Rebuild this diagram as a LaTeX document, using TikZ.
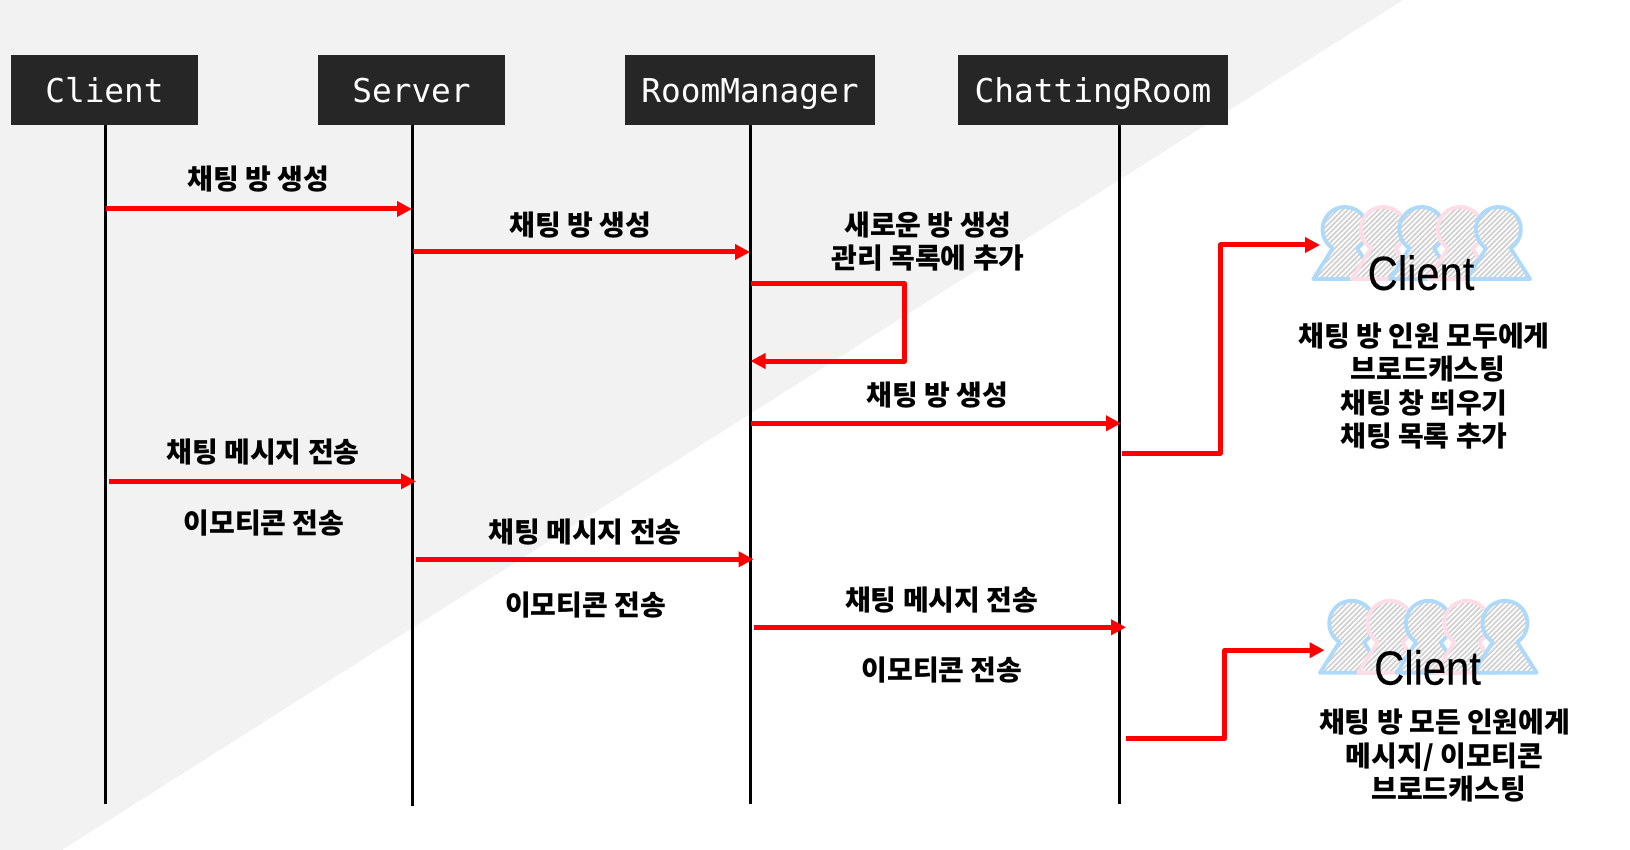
\documentclass[tikz,border=0pt]{standalone}
\usepackage{fontspec}
\setmonofont{DejaVu Sans Mono}
\newfontfamily\krfont{Noto Sans CJK KR}
\newfontfamily\crowdfont[FakeStretch=0.87,FakeBold=0.25]{Liberation Sans}
\usetikzlibrary{arrows.meta,patterns.meta}
\definecolor{headbg}{HTML}{262626}
\definecolor{wedge}{HTML}{F2F2F2}
\definecolor{crowdblue}{HTML}{ADDAFA}
\definecolor{crowdpink}{HTML}{FFDDE6}
\definecolor{crowdhatch}{HTML}{CFCFCF}
\tikzset{
    header/.style={fill=headbg,text=white,inner sep=0pt,minimum height=70.5pt,text height=30pt,text depth=4pt,font=\ttfamily\fontsize{32.8}{33}\selectfont},
    lifeline/.style={black,line width=3pt},
    msg/.style={red,line width=5pt,line join=round,-{Triangle[length=15pt,width=15pt]}},
    msglabel/.style={inner sep=0pt,align=center,font=\krfont\bfseries\fontsize{28}{33.5}\selectfont},
    crowdlabel/.style={inner sep=0pt,font=\crowdfont\fontsize{48}{48}\selectfont},
    person/.pic={
        \draw[#1,line width=3.8pt,line join=round,preaction={fill=white},pattern={Lines[angle=45,distance=3.6pt,line width=1.7pt]},pattern color=crowdhatch]
            (-31.7,49.5) -- (-12.3,18.8) arc[start angle=123,end angle=417,radius=22.5] -- (31.7,49.5) -- cycle;
    },
}
\begin{document}
\begin{tikzpicture}[x=1pt,y=-1pt]

    \useasboundingbox (0,0) rectangle (1630,850);
    \fill[wedge] (0,0) -- (1403,0) -- (62,850) -- (0,850) -- cycle;

    % headers
    \node[header,minimum width=187pt] (client) at (104.5,90) {Client};
    \node[header,minimum width=187pt] (server) at (411.5,90) {Server};
    \node[header,minimum width=250pt] (roommanager) at (750,90) {RoomManager};
    \node[header,minimum width=269.5pt] (chattingroom) at (1093,90) {ChattingRoom};

    % lifelines
    \coordinate (clientend) at (105.2,804);
    \coordinate (serverend) at (412.1,806);
    \coordinate (managerend) at (750.7,804);
    \coordinate (roomend) at (1119.7,804);
    \draw[lifeline] (client.south -| clientend) -- (clientend);
    \draw[lifeline] (server.south -| serverend) -- (serverend);
    \draw[lifeline] (roommanager.south -| managerend) -- (managerend);
    \draw[lifeline] (chattingroom.south -| roomend) -- (roomend);

    % create room
    \node[msglabel] (create1) at (258.5,179) {채팅 방 생성};
    \node[msglabel] (create2) at (580.7,225.5) {채팅 방 생성};
    \node[msglabel] (addlist) at (928,241.5) {새로운 방 생성\\관리 목록에 추가};
    \node[msglabel] (create3) at (937.3,395) {채팅 방 생성};

    \coordinate (a1) at (106,209);
    \coordinate (b1) at (412,209);
    \coordinate (b2) at (412.7,252);
    \coordinate (c2) at (750,252);
    \coordinate (c3) at (750.5,283.5);
    \coordinate (c4) at (904.5,283.5);
    \coordinate (c5) at (904.5,361);
    \coordinate (c6) at (750.5,361);
    \coordinate (c7) at (750.5,423.3);
    \coordinate (d7) at (1121,423.3);
    \draw[msg] (a1) to (b1); % Client -> Server
    \draw[msg] (b2) to (c2); % Server -> RoomManager
    \draw[msg] (c3) -- (c4) -- (c5) -- (c6); % RoomManager -> itself
    \draw[msg] (c7) to (d7); % RoomManager -> ChattingRoom

    % message and emoticon
    \node[msglabel] (chat1) at (263,452.5) {채팅 메시지 전송};
    \node[msglabel] (emoji1) at (264,523) {이모티콘 전송};
    \node[msglabel] (chat2) at (585,532.5) {채팅 메시지 전송};
    \node[msglabel] (emoji2) at (585.5,605.5) {이모티콘 전송};
    \node[msglabel] (chat3) at (941.7,600.5) {채팅 메시지 전송};
    \node[msglabel] (emoji3) at (942,670.5) {이모티콘 전송};

    \coordinate (a8) at (109,481.3);
    \coordinate (b8) at (416,481.3);
    \coordinate (b9) at (416,559.3);
    \coordinate (c9) at (753.6,559.3);
    \coordinate (c10) at (753.6,627.3);
    \coordinate (d10) at (1126,627.3);
    \draw[msg] (a8) to (b8); % Client -> Server
    \draw[msg] (b9) to (c9); % Server -> RoomManager
    \draw[msg] (c10) to (d10); % RoomManager -> ChattingRoom

    % first crowd
    \pic at (1345,229.5) {person=crowdblue};
    \pic at (1383.4,229.5) {person=crowdpink};
    \pic at (1421.8,229.5) {person=crowdblue};
    \pic at (1460.2,229.5) {person=crowdpink};
    \pic at (1498.4,229.5) {person=crowdblue};
    \node[crowdlabel] (crowd1) at (1421,272.8) {Client};
    \node[msglabel] (notice1) at (1424,386.2) {채팅 방 인원 모두에게\\\hspace*{8pt}브로드캐스팅\\채팅 창 띄우기\\채팅 목록 추가};

    \coordinate (d11) at (1121.6,453);
    \coordinate (e11) at (1220.4,453);
    \coordinate (e12) at (1220.4,245);
    \coordinate (f12) at (1320,245);
    \draw[msg] (d11) -- (e11) -- (e12) -- (f12); % ChattingRoom -> Client

    % second crowd
    \pic at (1351.7,623.3) {person=crowdblue};
    \pic at (1390,623.3) {person=crowdpink};
    \pic at (1428.4,623.3) {person=crowdblue};
    \pic at (1466.8,623.3) {person=crowdpink};
    \pic at (1505,623.3) {person=crowdblue};
    \node[crowdlabel] (crowd2) at (1427.5,667.5) {Client};
    \node[msglabel] (notice2) at (1444.7,756) {채팅 방 모든 인원에게\\메시지/ 이모티콘\\\hspace*{8pt}브로드캐스팅};

    \coordinate (d13) at (1125.8,738.5);
    \coordinate (e13) at (1224.6,738.5);
    \coordinate (e14) at (1224.6,650.2);
    \coordinate (f14) at (1324.5,650.2);
    \draw[msg] (d13) -- (e13) -- (e14) -- (f14); % ChattingRoom -> Client

\end{tikzpicture}
\end{document}
